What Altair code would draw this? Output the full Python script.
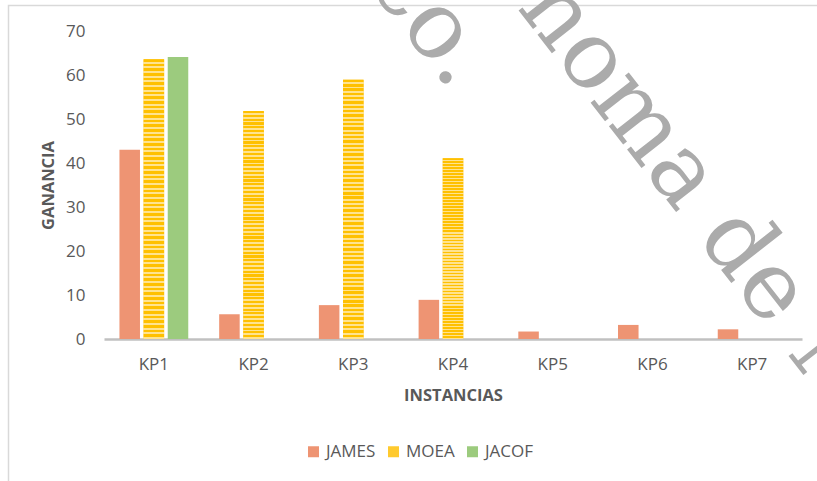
import altair as alt
import pandas as pd

categories = ["KP1", "KP2", "KP3", "KP4", "KP5", "KP6", "KP7"]
series = ["JAMES", "MOEA", "JACOF"]
james = [43.0, 5.6, 7.7, 8.9, 1.7, 3.2, 2.2]
moea = [63.6, 51.8, 58.9, 41.1, None, None, None]
jacof = [64.1, None, None, None, None, None, None]
colors = ["#EE9473", "#FFCA2E", "#9CCB7E"]
y_ticks = [0, 10, 20, 30, 40, 50, 60, 70]

rows = []
for name, vals in zip(series, [james, moea, jacof]):
    for c, v in zip(categories, vals):
        if v is not None:
            rows.append({"cat": c, "series": name, "value": v})
df = pd.DataFrame(rows)

FONT = "Open Sans"
TXT = "#595959"

x_enc = alt.X(
    "cat:N",
    scale=alt.Scale(domain=categories, paddingInner=0.31, paddingOuter=0.155),
    axis=alt.Axis(
        title="INSTANCIAS", labelAngle=0, ticks=False, domainColor="#C0C0C0",
        domainWidth=2.5, labelFont=FONT, labelFontSize=17, labelColor=TXT,
        labelPadding=17, titleFont=FONT, titleFontSize=16.5, titleFontWeight="bold",
        titleColor=TXT, titleY=56, titleBaseline="middle",
    ),
)
xoff = alt.XOffset("series:N", scale=alt.Scale(domain=series, paddingInner=0.15, paddingOuter=0))
y_enc = alt.Y(
    "value:Q",
    scale=alt.Scale(domain=[0, 70], nice=False),
    axis=alt.Axis(
        title="GANANCIA", values=y_ticks, grid=False, domain=False, ticks=False,
        labelFont=FONT, labelFontSize=17, labelColor=TXT, labelPadding=19,
        titleFont=FONT, titleFontSize=16.5, titleFontWeight="bold", titleColor=TXT,
        titleX=-56, titleY=154, titleAngle=-90, titleAlign="center", titleBaseline="middle",
    ),
)

bars = alt.Chart(df).mark_bar().encode(
    x=x_enc,
    xOffset=xoff,
    y=y_enc,
    color=alt.Color(
        "series:N",
        scale=alt.Scale(domain=series, range=colors),
        legend=alt.Legend(
            orient="none", legendX=201, legendY=412, direction="horizontal", title=None,
            symbolType="square", symbolSize=121, symbolStrokeWidth=0, symbolOpacity=1,
            labelFont=FONT, labelFontSize=17, labelColor=TXT, columnPadding=9,
            labelOffset=4, padding=0,
        ),
    ),
)

# horizontal stripe texture for MOEA bars
n_stripes = 60
stops = []
for i in range(n_stripes):
    a = i / n_stripes
    b = (i + 0.55) / n_stripes
    c = (i + 1) / n_stripes
    stops.append(alt.GradientStop(offset=a, color="#FFC000"))
    stops.append(alt.GradientStop(offset=b, color="#FFC000"))
    stops.append(alt.GradientStop(offset=b, color="#FFE38F"))
    stops.append(alt.GradientStop(offset=c, color="#FFE38F"))
stripe_grad = alt.LinearGradient(gradient="linear", stops=stops, x1=0, x2=0, y1=0, y2=1)

stripes = (
    alt.Chart(df)
    .transform_filter(alt.datum.series == "MOEA")
    .mark_bar(fill=stripe_grad)
    .encode(x=x_enc, xOffset=xoff, y=y_enc)
)

one = alt.Data(values=[{"k": 1}])
border = alt.Chart(one).mark_rect(fill="transparent", stroke="#D9D9D9", strokeWidth=1.5).encode(
    x=alt.value(-95.5), x2=alt.value(730), y=alt.value(-25.5), y2=alt.value(480)
)

wm_style = dict(angle=52, font="DejaVu Serif", fontSize=94, color="#ABABAB", baseline="alphabetic")
wm1 = alt.Chart(one).mark_text(align="left", **wm_style).encode(
    x=alt.value(275), y=alt.value(-199), text=alt.value("Autónoma de N")
)
wm2 = alt.Chart(one).mark_text(align="right", **wm_style).encode(
    x=alt.value(347), y=alt.value(61), text=alt.value("Repositorio Público.")
)

chart = (
    alt.layer(border, bars, stripes, wm1, wm2)
    .properties(
        width=698, height=308,
        padding={"left": 104, "top": 31, "right": 15, "bottom": 142},
        autosize=alt.AutoSizeParams(type="none"),
        background="white",
    )
    .configure_view(stroke=None)
)

chart.save("out.html", embed_options={"renderer": "svg", "actions": False})
